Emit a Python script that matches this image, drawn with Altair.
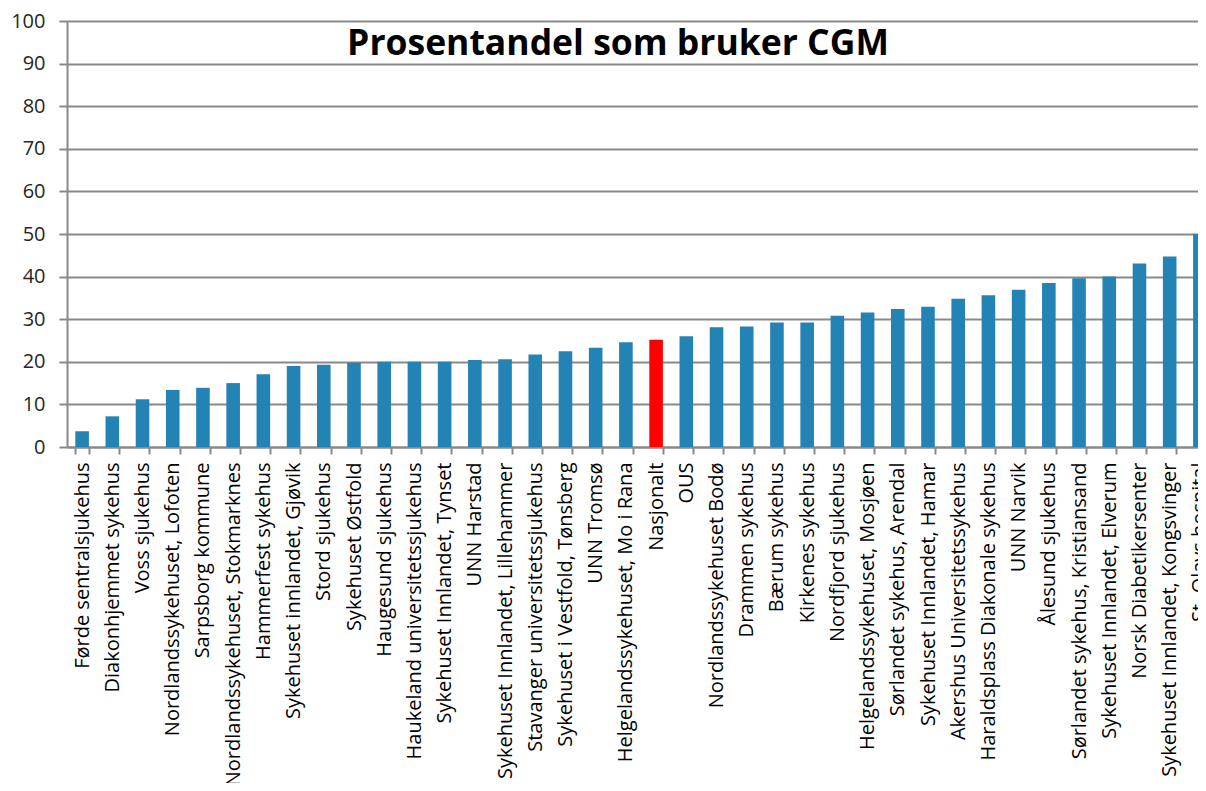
import altair as alt
import pandas as pd

categories = [
    "Førde sentralsjukehus", "Diakonhjemmet sykehus", "Voss sjukehus",
    "Nordlandssykehuset, Lofoten", "Sarpsborg kommune",
    "Nordlandssykehuset, Stokmarknes", "Hammerfest sykehus",
    "Sykehuset innlandet, Gjøvik", "Stord sjukehus", "Sykehuset Østfold",
    "Haugesund sjukehus", "Haukeland universitetssjukehus",
    "Sykehuset Innlandet, Tynset", "UNN Harstad",
    "Sykehuset Innlandet, Lillehammer", "Stavanger universitetssjukehus",
    "Sykehuset i Vestfold, Tønsberg", "UNN Tromsø",
    "Helgelandssykehuset, Mo i Rana", "Nasjonalt", "OUS",
    "Nordlandssykehuset Bodø", "Drammen sykehus", "Bærum sykehus",
    "Kirkenes sykehus", "Nordfjord sjukehus", "Helgelandssykehuset, Mosjøen",
    "Sørlandet sykehus, Arendal", "Sykehuset Innlandet, Hamar",
    "Akershus Universitetssykehus", "Haraldsplass Diakonale sykehus",
    "UNN Narvik", "Ålesund sjukehus", "Sørlandet sykehus, Kristiansand",
    "Sykehuset Innlandet, Elverum", "Norsk Diabetikersenter",
    "Sykehuset Innlandet, Kongsvinger", "St. Olavs hospital",
]
values = [
    3.7, 7.2, 11.2, 13.4, 13.9, 15.0, 17.1, 19.0, 19.3, 19.8,
    20.0, 20.0, 20.0, 20.4, 20.6, 21.7, 22.5, 23.3, 24.6, 25.2,
    26.0, 28.1, 28.3, 29.2, 29.2, 30.8, 31.6, 32.4, 32.9, 34.8,
    35.6, 36.9, 38.5, 39.6, 40.0, 43.1, 44.7, 50.0,
]
y_ticks = [0, 10, 20, 30, 40, 50, 60, 70, 80, 90, 100]
highlight = "Nasjonalt"

df = pd.DataFrame({"Sykehus": categories, "Prosent": values})

GRAY = "#898989"
FONT = "Open Sans"

chart = alt.Chart(df).mark_bar().encode(
    x=alt.X(
        "Sykehus:N", sort=categories, title=None,
        scale=alt.Scale(paddingInner=0.55, paddingOuter=0.275),
        axis=alt.Axis(
            labelAngle=-90, labelAlign="right", labelBaseline="middle",
            labelFont=FONT, labelFontSize=20, labelColor="black",
            labelPadding=8, labelLimit=600, labelOverlap=False,
            tickBand="extent", tickSize=7, tickColor=GRAY, tickWidth=2,
            domainColor=GRAY, domainWidth=2, grid=False,
        ),
    ),
    y=alt.Y(
        "Prosent:Q", title=None,
        scale=alt.Scale(domain=[0, 100], nice=False),
        axis=alt.Axis(
            values=y_ticks, grid=True, gridColor=GRAY, gridWidth=2,
            labelFont=FONT, labelFontSize=20, labelColor="#262626",
            labelPadding=14, tickSize=8, tickColor=GRAY, tickWidth=2,
            domainColor=GRAY, domainWidth=2,
        ),
    ),
    color=alt.condition(
        alt.datum.Sykehus == highlight, alt.value("#ff0000"), alt.value("#2383b5")
    ),
).properties(
    width=1148,
    height=426,
    title=alt.Title(
        "Prosentandel som bruker CGM", font=FONT, fontSize=35.5,
        fontWeight="bold", color="black", anchor="middle", frame="group",
        baseline="alphabetic", dx=-23, dy=83,
    ),
    autosize=alt.AutoSizeParams(type="none"),
    padding={"left": 59, "top": 13, "right": -17, "bottom": 336},
).configure_view(stroke=None)

chart.save("out.html", embed_options={"renderer": "svg", "actions": False})
